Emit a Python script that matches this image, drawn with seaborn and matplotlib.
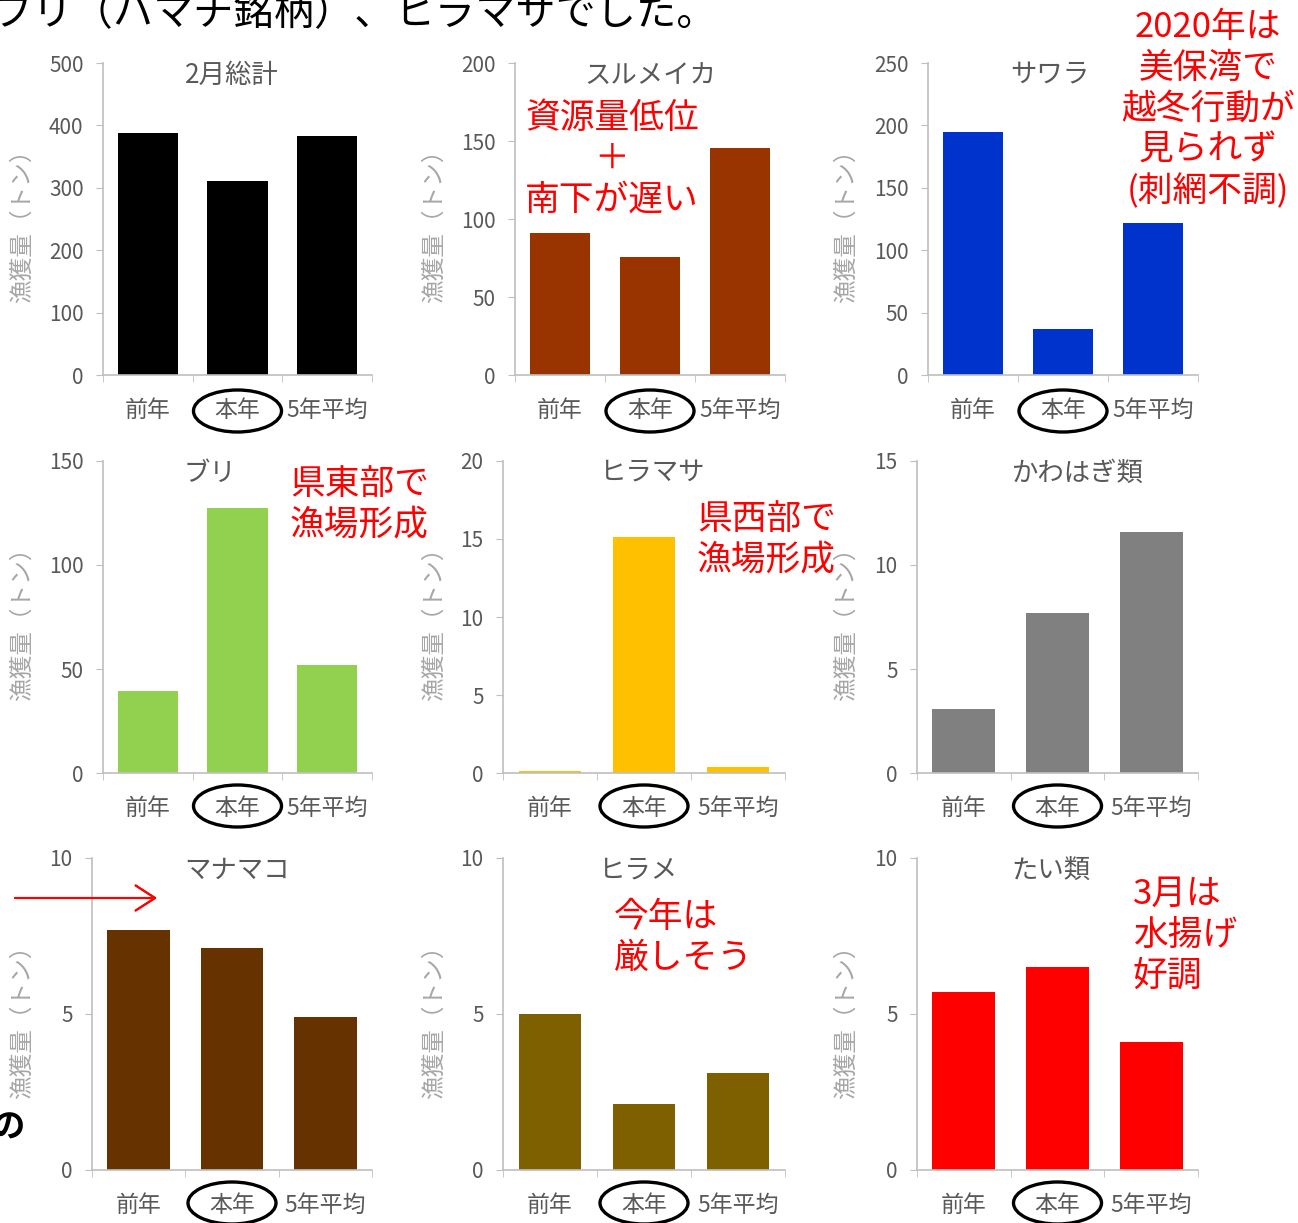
import matplotlib
matplotlib.use("Agg")
import matplotlib.pyplot as plt
import seaborn as sns
from matplotlib.patches import Ellipse

# データ（単位: トン）
categories = ["前年", "本年", "5年平均"]

titles = ["2月総計", "スルメイカ", "サワラ",
          "ブリ", "ヒラマサ", "かわはぎ類",
          "マナマコ", "ヒラメ", "たい類"]

total_feb = [388, 311, 383]
surumeika = [91, 75.5, 145.5]
sawara = [194.5, 37, 122]
buri = [39.5, 127.3, 52]
hiramasa = [0.13, 15.1, 0.4]
kawahagi = [3.1, 7.7, 11.6]
manamako = [7.7, 7.1, 4.9]
hirame = [5.0, 2.1, 3.1]
tai = [5.7, 6.5, 4.1]

series = [total_feb, surumeika, sawara, buri, hiramasa, kawahagi,
          manamako, hirame, tai]
y_max = [500, 200, 250, 150, 20, 15, 10, 10, 10]
y_step = [100, 50, 50, 50, 5, 5, 5, 5, 5]

colors = ["#000000", "#993300", "#0033CC",
          "#92D050", "#FFC000", "#808080",
          "#663300", "#7F6000", "#FF0000"]

# レイアウト（ピクセル）
W, H = 1298, 1223
row_tb = [(63, 375), (461, 773), (858, 1170)]
col_lr = [[(103, 372), (515, 785), (928, 1198)],
          [(103, 372), (503, 785), (917, 1198)],
          [(92, 372), (503, 785), (917, 1198)]]
title_xy = [(232, 75), (650, 75), (1050, 75),
            (210, 473), (652, 473), (1078, 473),
            (237, 870), (638, 870), (1051, 870)]
ylabel_x = [22, 434, 846]
ylabel_y = [220, 618, 1016]

sns.set_style("white")
plt.rcParams['font.family'] = ['Noto Sans CJK JP', 'DejaVu Sans']

fig = plt.figure(figsize=(W / 100, H / 100), dpi=100)

axis_grey = "#BFBFBF"
text_grey = "#595959"

for i in range(9):
    r, c = divmod(i, 3)
    top, bottom = row_tb[r]
    left, right = col_lr[r][c]
    ax = fig.add_axes([left / W, 1 - bottom / H, (right - left) / W, (bottom - top) / H])

    sns.barplot(x=categories, y=series[i], color=colors[i], saturation=1,
                width=0.67, ax=ax, linewidth=0)

    ax.set_xlim(-0.5, 2.5)
    ax.set_ylim(0, y_max[i])
    ax.set_yticks(range(0, y_max[i] + 1, y_step[i]))
    ax.set_xticks([0, 1, 2])
    ax.set_xticklabels(categories)
    ax.set_xticks([-0.5, 0.5, 1.5, 2.5], minor=True)
    ax.tick_params(axis='x', which='major', length=0, pad=17, labelsize=16.5, labelcolor=text_grey)
    ax.tick_params(axis='x', which='minor', length=5, color=axis_grey, direction='out', bottom=True)
    ax.tick_params(axis='y', length=5, color=axis_grey, direction='out', left=True,
                   pad=9, labelsize=15, labelcolor=text_grey)
    for s in ["top", "right"]:
        ax.spines[s].set_visible(False)
    for s in ["left", "bottom"]:
        ax.spines[s].set_color(axis_grey)
        ax.spines[s].set_linewidth(1.2)
    ax.set_xlabel("")
    ax.set_ylabel("")
    ax.patch.set_alpha(0)

    # 本年を丸で囲む
    unit_px = (right - left) / 3
    ell = Ellipse((1, -(33 + (3 if r == 0 else 0)) / (bottom - top)),
                  width=88 / unit_px, height=42 / (bottom - top),
                  transform=ax.get_xaxis_transform(), fill=False,
                  edgecolor="black", linewidth=2.4, clip_on=False)
    ax.add_patch(ell)

    tx, ty = title_xy[i]
    fig.text(tx / W, 1 - ty / H, titles[i], ha='center', va='center',
             fontsize=19, color=text_grey)

# 縦軸ラベル
for r in range(3):
    for c in range(3):
        fig.text(ylabel_x[c] / W, 1 - ylabel_y[r] / H, "漁獲量（トン）", rotation=90,
                 ha='center', va='center', fontsize=17, color="#A6A6A6")

# 注記
red = "#FF0000"
fig.text(612 / W, 1 - 159 / H, "資源量低位\n＋\n南下が遅い", ha='center', va='center',
         fontsize=25, color=red, linespacing=1.22)
fig.text(1208 / W, 1 - 110 / H, "2020年は\n美保湾で\n越冬行動が\n見られず\n(刺網不調)",
         ha='center', va='center', fontsize=25, color=red, linespacing=1.22)
fig.text(290 / W, 1 - 505 / H, "県東部で\n漁場形成", ha='left', va='center',
         fontsize=25, color=red, linespacing=1.22)
fig.text(697 / W, 1 - 540 / H, "県西部で\n漁場形成", ha='left', va='center',
         fontsize=25, color=red, linespacing=1.22)
fig.text(614 / W, 1 - 938 / H, "今年は\n厳しそう", ha='left', va='center',
         fontsize=25, color=red, linespacing=1.22)
fig.text(1133 / W, 1 - 935 / H, "3月は\n水揚げ\n好調", ha='left', va='center',
         fontsize=25, color=red, linespacing=1.22)

# 上部の本文（切れている）
fig.text(-7 / W, 1 - 25 / H, "ブリ（ハマチ銘柄）、ヒラマサでした。", ha='left', va='baseline',
         fontsize=29, color="black")
fig.text(-8 / W, 1 - 1128 / H, "の", ha='left', va='center', fontsize=24,
         fontweight='bold', color="black")

# 赤矢印
fig.add_artist(plt.annotate("", xy=(157, H - 898), xytext=(15, H - 898),
                            xycoords='figure pixels', textcoords='figure pixels',
                            arrowprops=dict(arrowstyle="->,head_length=0.7,head_width=0.45",
                                            color=red, lw=1.5, shrinkA=0, shrinkB=0,
                                            mutation_scale=20)))

fig.savefig("out.png", dpi=100)
